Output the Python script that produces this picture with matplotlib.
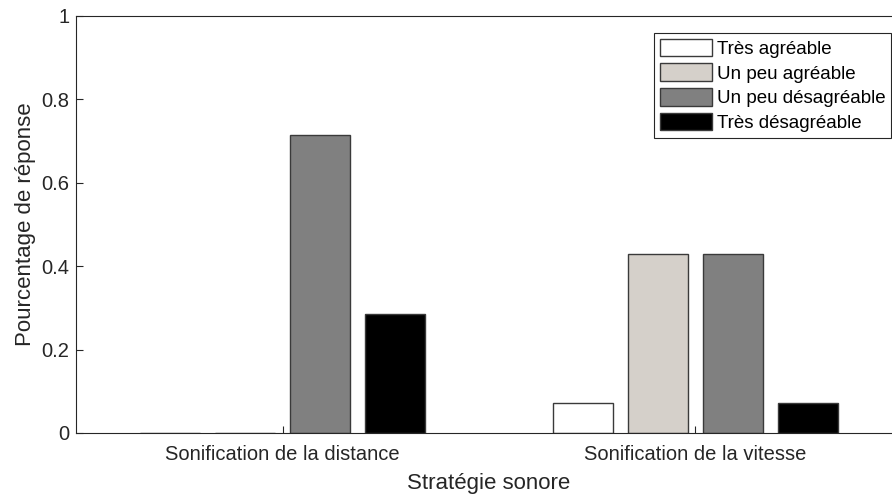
import numpy as np
import matplotlib.pyplot as plt

plt.rcParams['font.family'] = ['Liberation Sans', 'DejaVu Sans']

# données
strategies = ['Sonification de la distance', 'Sonification de la vitesse']
reponses = ['Très agréable', 'Un peu agréable', 'Un peu désagréable', 'Très désagréable']
tres_agreable = [0.0, 0.0714]
peu_agreable = [0.0, 0.4286]
peu_desagreable = [0.7143, 0.4286]
tres_desagreable = [0.2857, 0.0714]
couleurs = ['#ffffff', '#d5d0ca', '#808080', '#000000']

series = [tres_agreable, peu_agreable, peu_desagreable, tres_desagreable]

fig = plt.figure(figsize=(8.92, 4.95), dpi=100)
ax = fig.add_axes([0.0857, 0.1253, 0.9251, 0.8424])

x = np.arange(1, len(strategies) + 1)
pas = (4 / 5.5) / 4   # largeur de groupe façon matlab
largeur = 0.8 * pas
for i, (vals, c, lab) in enumerate(zip(series, couleurs, reponses)):
    ax.bar(x + (i - 1.5) * pas, vals, largeur, color=c, edgecolor='#3a3a3a',
           linewidth=1, label=lab)

ax.set_xlim(0.5, 2.5)
ax.set_ylim(0, 1)
ax.set_xticks(x)
ax.set_xticklabels(strategies)
ax.set_yticks([0, 0.2, 0.4, 0.6, 0.8, 1])
ax.set_yticklabels(['0', '0.2', '0.4', '0.6', '0.8', '1'])
ax.tick_params(direction='in', length=5, labelsize=14.5, colors='#262626', width=0.8)
ax.tick_params(axis='y', pad=5)
ax.tick_params(axis='x', pad=9)
for s in ax.spines.values():
    s.set_color('#262626')
    s.set_linewidth(0.8)

ax.set_xlabel('Stratégie sonore', fontsize=16, color='#262626', labelpad=6)
ax.set_ylabel('Pourcentage de réponse', fontsize=16, color='#262626', labelpad=4)

leg = ax.legend(loc='upper left', bbox_to_anchor=(0.700, 0.959), fontsize=13.5,
                frameon=True, fancybox=False, edgecolor='#262626', framealpha=1,
                handlelength=2.8, handleheight=1.05, handletextpad=0.25,
                borderpad=0.3, labelspacing=0.3, borderaxespad=0)
leg.get_frame().set_linewidth(0.8)

plt.savefig('out.png', dpi=100)
